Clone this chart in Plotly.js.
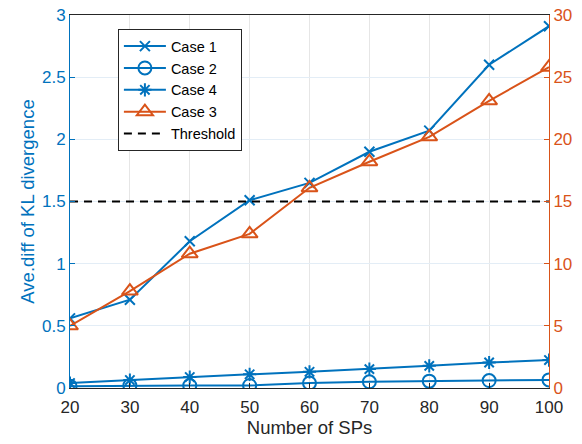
<!DOCTYPE html>
<html><head><meta charset="utf-8">
<script src="https://cdn.plot.ly/plotly-3.0.1.min.js"></script>
<style>html,body{margin:0;padding:0;background:#fff;}#chart{width:582px;height:444px;}</style>
</head><body><div id="chart"></div>
<script>
const sps = [20, 30, 40, 50, 60, 70, 80, 90, 100];
const case1 = [0.56, 0.71, 1.18, 1.51, 1.65, 1.90, 2.07, 2.60, 2.91];
const case2 = [0.015, 0.02, 0.02, 0.02, 0.04, 0.05, 0.055, 0.06, 0.065];
const case4 = [0.04, 0.064, 0.088, 0.11, 0.13, 0.152, 0.178, 0.205, 0.225];
const case3 = [5.0, 7.8, 10.8, 12.4, 16.1, 18.2, 20.2, 23.1, 25.8];
const thresholdX = [20, 100];
const thresholdY = [1.5, 1.5];
const xTicks = [20, 30, 40, 50, 60, 70, 80, 90, 100];
const yLeftTicks = [0, 0.5, 1, 1.5, 2, 2.5, 3];
const yLeftLabels = ['0', '0.5', '1', '1.5', '2', '2.5', '3'];
const yRightTicks = [0, 5, 10, 15, 20, 25, 30];

const blue = '#0072BD', orange = '#D95319';
const traces = [
  {x: sps, y: case1, name: 'Case 1', mode: 'lines+markers', line: {color: blue, width: 2},
   marker: {symbol: 'x-thin-open', size: 10, line: {color: blue, width: 2}}},
  {x: sps, y: case2, name: 'Case 2', mode: 'lines+markers', line: {color: blue, width: 2},
   marker: {symbol: 'circle-open', size: 13, color: blue, line: {color: blue, width: 2}}},
  {x: sps, y: case4, name: 'Case 4', mode: 'lines+markers', line: {color: blue, width: 2},
   marker: {symbol: 'asterisk-open', size: 11, line: {color: blue, width: 2}}},
  {x: sps, y: case3, name: 'Case 3', yaxis: 'y2', mode: 'lines+markers', line: {color: orange, width: 2},
   marker: {symbol: 'triangle-up-open', size: 14, color: orange, line: {color: orange, width: 2}}},
  {x: thresholdX, y: thresholdY, name: 'Threshold', mode: 'lines', line: {color: '#000', width: 2.2, dash: '8px,6px'}}
];
const layout = {
  width: 582, height: 444,
  margin: {l: 70, r: 33, t: 15, b: 56},
  paper_bgcolor: '#fff', plot_bgcolor: '#fff',
  font: {family: 'Liberation Sans, Arial, sans-serif', size: 17, color: '#262626'},
  showlegend: true,
  legend: {x: 0.1, y: 0.962, xanchor: 'left', yanchor: 'top', bgcolor: '#fff',
    bordercolor: '#262626', borderwidth: 1, font: {size: 14.5, color: '#000'},
    tracegroupgap: 0, itemwidth: 42},
  xaxis: {range: [20, 100], tickvals: xTicks, ticktext: xTicks.map(String),
    showgrid: true, gridcolor: '#e6e6e6', gridwidth: 1, zeroline: false,
    showline: true, linecolor: '#262626', linewidth: 1, mirror: true,
    ticks: 'inside', ticklen: 5, tickcolor: '#262626',
    ticklabelstandoff: 4,
    tickfont: {size: 17, color: '#262626'},
    title: {text: 'Number of SPs', font: {size: 18.5, color: '#262626'}, standoff: 4}},
  yaxis: {range: [0, 3], tickvals: yLeftTicks, ticktext: yLeftLabels,
    showgrid: true, gridcolor: '#e3edf6', zeroline: false,
    showline: true, linecolor: blue, linewidth: 1,
    ticks: 'inside', ticklen: 5, tickcolor: blue,
    tickfont: {size: 17, color: blue},
    title: {text: 'Ave.diff of KL divergence', font: {size: 18.5, color: blue}, standoff: 2}},
  yaxis2: {range: [0, 30], tickvals: yRightTicks, overlaying: 'y', side: 'right',
    showgrid: false, zeroline: false, showline: true, linecolor: orange, linewidth: 1,
    ticks: 'inside', ticklen: 5, tickcolor: orange,
    tickfont: {size: 17, color: orange}}
};
Plotly.newPlot('chart', traces, layout, {displayModeBar: false, staticPlot: true});
</script></body></html>
